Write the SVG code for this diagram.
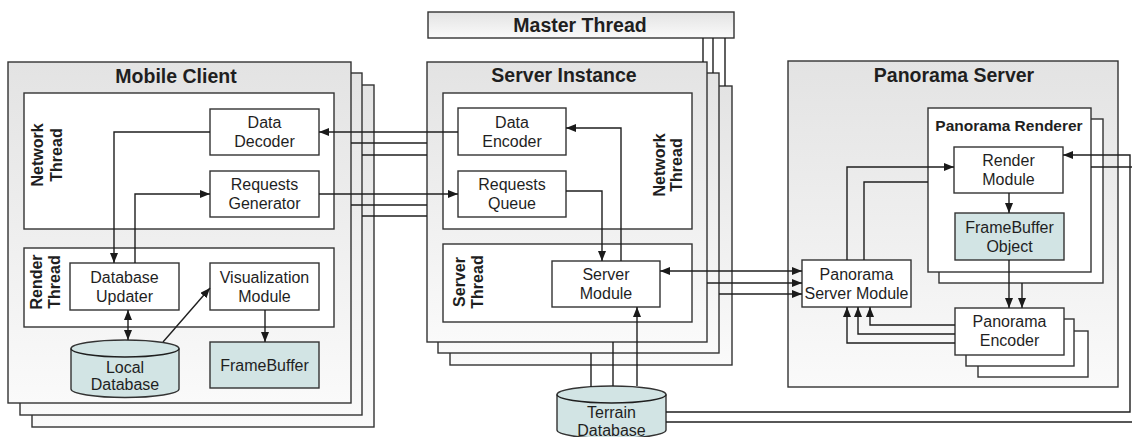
<svg xmlns="http://www.w3.org/2000/svg" width="1132" height="437" viewBox="0 0 1132 437">
<defs>
<linearGradient id="g" x1="0" y1="0" x2="0" y2="1">
<stop offset="0" stop-color="#e3e3e3"/>
<stop offset="1" stop-color="#fafafa"/>
</linearGradient>
<marker id="ah" viewBox="0 0 10 8" refX="10" refY="4" markerWidth="10" markerHeight="8" markerUnits="userSpaceOnUse" orient="auto-start-reverse">
<path d="M0,0 L10,4 L0,8 z" fill="#1a1a1a"/>
</marker>
<style>
.outer{fill:url(#g);stroke:#333;stroke-width:1.4}
.box{fill:#fff;stroke:#333;stroke-width:1.4}
.db{fill:#d2e4e4;stroke:#333;stroke-width:1.4}
.c{fill:none;stroke:#1f1f1f;stroke-width:1.4}
.a{marker-end:url(#ah)}
.b{marker-start:url(#ah);marker-end:url(#ah)}
text{font-family:"Liberation Sans",Arial,Helvetica,sans-serif;fill:#1f1f1f;text-anchor:middle}
.t{font-size:16px}
.h{font-size:19.5px;font-weight:bold}
.v{font-size:16px;font-weight:bold}
.r{font-size:15.5px;font-weight:bold}
</style>
</defs>

<!-- Mobile Client stack -->
<g id="mobile-client">
<rect class="outer" x="32" y="85" width="342" height="342"/>
<rect class="outer" x="20" y="73" width="342" height="342"/>
<rect class="outer" x="8" y="62" width="343" height="341"/>
<text class="h" x="176" y="83">Mobile Client</text>
</g>
<g id="client-network-thread">
<rect class="box" x="24" y="93" width="310" height="136"/>
<text class="v" transform="translate(43,155) rotate(-90)">Network</text>
<text class="v" transform="translate(62,155) rotate(-90)">Thread</text>
</g>
<g id="data-decoder">
<rect class="box" x="210" y="109" width="109" height="46"/>
<text class="t" x="264.5" y="128">Data</text>
<text class="t" x="264.5" y="147">Decoder</text>
</g>
<g id="requests-generator">
<rect class="box" x="210" y="171" width="109" height="46"/>
<text class="t" x="264.5" y="190">Requests</text>
<text class="t" x="264.5" y="209">Generator</text>
</g>
<g id="client-render-thread">
<rect class="box" x="24" y="248" width="310" height="79"/>
<text class="v" transform="translate(42,282) rotate(-90)">Render</text>
<text class="v" transform="translate(60,282) rotate(-90)">Thread</text>
</g>
<g id="database-updater">
<rect class="box" x="70" y="263" width="109" height="47"/>
<text class="t" x="124.5" y="283">Database</text>
<text class="t" x="124.5" y="302">Updater</text>
</g>
<g id="visualization-module">
<rect class="box" x="210" y="263" width="109" height="47"/>
<text class="t" x="264.5" y="283">Visualization</text>
<text class="t" x="264.5" y="302">Module</text>
</g>
<g id="local-database">
<path class="db" d="M71,348.5 V389 A54,8.5 0 0 0 179,389 V348.5 A54,8.5 0 0 0 71,348.5 Z"/>
<path class="c" d="M71,348.5 A54,8.5 0 0 0 179,348.5"/>
<text class="t" x="125" y="373">Local</text>
<text class="t" x="125" y="390">Database</text>
</g>
<g id="framebuffer">
<rect class="db" x="210" y="342" width="109" height="46"/>
<text class="t" x="264.5" y="370.5">FrameBuffer</text>
</g>

<!-- Master Thread -->
<g id="master-thread">
<rect class="outer" x="428" y="12" width="306" height="26"/>
<text class="h" x="580" y="32">Master Thread</text>
</g>

<!-- Server Instance stack -->
<g id="server-instance">
<rect class="outer" x="450" y="86" width="282" height="279"/>
<rect class="outer" x="438" y="73" width="281" height="280"/>
<rect class="outer" x="427" y="62" width="280" height="280"/>
<text class="h" x="564" y="82">Server Instance</text>
</g>
<g id="server-network-thread">
<rect class="box" x="443" y="93" width="249" height="136"/>
<text class="v" transform="translate(665,165) rotate(-90)">Network</text>
<text class="v" transform="translate(682,165) rotate(-90)">Thread</text>
</g>
<g id="data-encoder">
<rect class="box" x="458" y="108" width="108" height="47"/>
<text class="t" x="512" y="128">Data</text>
<text class="t" x="512" y="147">Encoder</text>
</g>
<g id="requests-queue">
<rect class="box" x="458" y="171" width="108" height="46"/>
<text class="t" x="512" y="190">Requests</text>
<text class="t" x="512" y="209">Queue</text>
</g>
<g id="server-thread">
<rect class="box" x="443" y="244" width="249" height="78"/>
<text class="v" transform="translate(465,282) rotate(-90)">Server</text>
<text class="v" transform="translate(483,282) rotate(-90)">Thread</text>
</g>
<g id="server-module">
<rect class="box" x="552" y="261" width="108" height="46"/>
<text class="t" x="606" y="280">Server</text>
<text class="t" x="606" y="299">Module</text>
</g>
<g id="terrain-database">
<path class="db" d="M557,394.5 V430 A54.5,8.5 0 0 0 666,430 V394.5 A54.5,8.5 0 0 0 557,394.5 Z"/>
<path class="c" d="M557,394.5 A54.5,8.5 0 0 0 666,394.5"/>
<text class="t" x="611.5" y="418">Terrain</text>
<text class="t" x="611.5" y="436">Database</text>
</g>

<!-- Panorama Server -->
<g id="panorama-server">
<rect class="outer" x="788" y="61" width="330" height="326"/>
<text class="h" x="954" y="82">Panorama Server</text>
</g>
<g id="panorama-renderer">
<rect class="box" x="939" y="119" width="164" height="164"/>
<rect class="box" x="928" y="108" width="163" height="164"/>
<text class="r" x="1009" y="131">Panorama Renderer</text>
</g>
<g id="render-module">
<rect class="box" x="954" y="147" width="109" height="46"/>
<text class="t" x="1008.5" y="166">Render</text>
<text class="t" x="1008.5" y="185">Module</text>
</g>
<g id="framebuffer-object">
<rect class="db" x="955" y="213" width="109" height="47"/>
<text class="t" x="1009.5" y="233">FrameBuffer</text>
<text class="t" x="1009.5" y="252">Object</text>
</g>
<g id="panorama-server-module">
<rect class="box" x="802" y="260" width="109" height="47"/>
<text class="t" x="856.5" y="280">Panorama</text>
<text class="t" x="856.5" y="299">Server Module</text>
</g>
<g id="panorama-encoder">
<rect class="box" x="978" y="331" width="110" height="46"/>
<rect class="box" x="966" y="319" width="108" height="47"/>
<rect class="box" x="955" y="308" width="109" height="47"/>
<text class="t" x="1009.5" y="327">Panorama</text>
<text class="t" x="1009.5" y="346">Encoder</text>
</g>

<!-- Connectors -->
<g id="connectors">
<path class="c a" d="M458,132 H319"/>
<path class="c" d="M351,143 H427"/>
<path class="c" d="M362,155 H427"/>
<path class="c a" d="M319,194 H458"/>
<path class="c" d="M351,205 H427"/>
<path class="c" d="M362,216 H427"/>
<path class="c a" d="M210,132 H114 V263"/>
<path class="c a" d="M135,263 V194 H210"/>
<path class="c b" d="M128,310 V340"/>
<path class="c a" d="M163,342 L210,288"/>
<path class="c a" d="M265,310 V342"/>
<path class="c a" d="M566,191 H602 V261"/>
<path class="c a" d="M621,261 V128 H566"/>
<path class="c b" d="M660,271 H802"/>
<path class="c a" d="M707,283 H802"/>
<path class="c a" d="M719,294 H802"/>
<path class="c" d="M703,38 V62 M713,38 V73 M725,38 V86"/>
<path class="c" d="M591,387 V353 M613,386 V342"/>
<path class="c a" d="M637,386 V307"/>
<path class="c a" d="M666,412 H1130 V155 H1063"/>
<path class="c" d="M666,422 H1132"/>
<path class="c" d="M1091,167 H1132"/>
<path class="c a" d="M1009,193 V213"/>
<path class="c a" d="M1009,260 V308"/>
<path class="c a" d="M1022,283 V308"/>
<path class="c a" d="M955,325 H870 V307"/>
<path class="c a" d="M955,334 H858 V307"/>
<path class="c a" d="M955,343 H847 V307"/>
<path class="c a" d="M847,260 V167 H954"/>
<path class="c" d="M864,260 V182 H928"/>
</g>
</svg>
